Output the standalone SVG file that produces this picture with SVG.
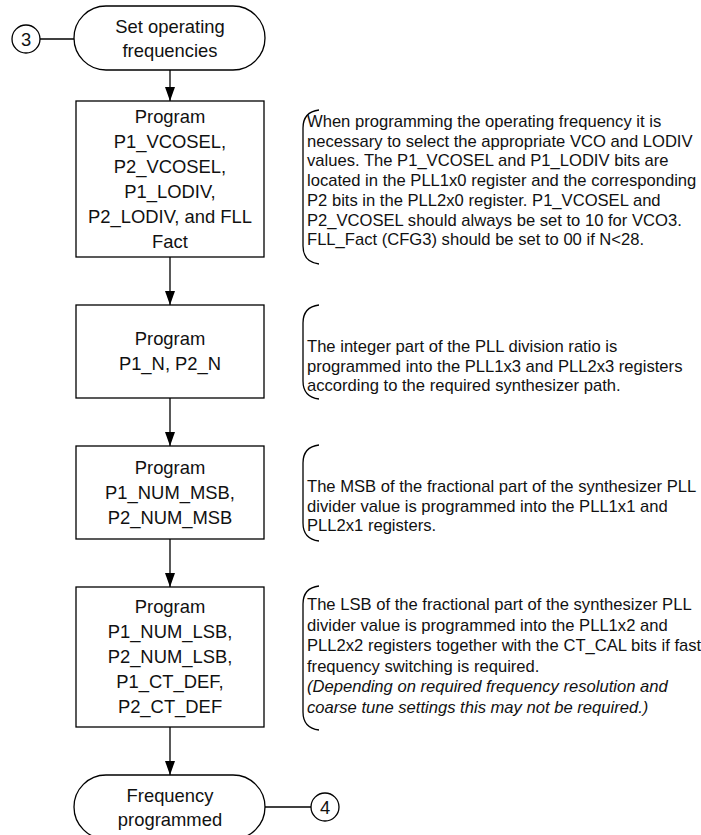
<svg xmlns="http://www.w3.org/2000/svg" width="701" height="835" viewBox="0 0 701 835">
<style>
.s{fill:#fff;stroke:#000;stroke-width:1.3}
.l{fill:none;stroke:#000;stroke-width:1.3}
.t{font-family:"Liberation Sans",Arial,sans-serif;font-size:18.4px;fill:#111;text-anchor:middle}
.n{font-family:"Liberation Sans",Arial,sans-serif;font-size:16.6px;fill:#111}
.i{font-style:italic}
</style>
<defs>
<marker id="ah" markerWidth="14" markerHeight="10" refX="14" refY="5" orient="auto" markerUnits="userSpaceOnUse" viewBox="0 0 14 10">
<path d="M0,0 L14,5 L0,10 Z" fill="#000"/>
</marker>
</defs>
<g id="connectors">
<line class="l" x1="40" y1="39" x2="74" y2="39"/>
<line class="l" x1="170" y1="70" x2="170" y2="101" marker-end="url(#ah)"/>
<line class="l" x1="170" y1="257" x2="170" y2="305" marker-end="url(#ah)"/>
<line class="l" x1="170" y1="398" x2="170" y2="446" marker-end="url(#ah)"/>
<line class="l" x1="170" y1="539" x2="170" y2="587" marker-end="url(#ah)"/>
<line class="l" x1="170" y1="727" x2="170" y2="775" marker-end="url(#ah)"/>
<line class="l" x1="264" y1="807" x2="311" y2="807"/>
</g>
<g id="c3">
<circle class="s" cx="26" cy="39" r="14"/>
<text class="t" x="26" y="46">3</text>
</g>
<g id="start">
<rect class="s" x="74" y="6" width="191" height="64" rx="32" ry="32"/>
<text class="t" x="170" y="33">Set operating</text>
<text class="t" x="170" y="57">frequencies</text>
</g>
<g id="box1">
<rect class="s" x="76" y="101" width="188" height="156"/>
<text class="t" x="170" y="123">Program</text>
<text class="t" x="170" y="148">P1_VCOSEL,</text>
<text class="t" x="170" y="173">P2_VCOSEL,</text>
<text class="t" x="170" y="198">P1_LODIV,</text>
<text class="t" x="170" y="223">P2_LODIV, and FLL</text>
<text class="t" x="170" y="248">Fact</text>
</g>
<g id="note1">
<path class="l" d="M319,110 Q303,112 303,128 L303,246 Q303,262 319,264"/>
<text class="n" x="307" y="127">When programming the operating frequency it is</text>
<text class="n" x="307" y="146.7">necessary to select the appropriate VCO and LODIV</text>
<text class="n" x="307" y="166.4">values. The P1_VCOSEL and P1_LODIV bits are</text>
<text class="n" x="307" y="186.1">located in the PLL1x0 register and the corresponding</text>
<text class="n" x="307" y="205.8">P2 bits in the PLL2x0 register. P1_VCOSEL and</text>
<text class="n" x="307" y="225.5">P2_VCOSEL should always be set to 10 for VCO3.</text>
<text class="n" x="307" y="245.2">FLL_Fact (CFG3) should be set to 00 if N&lt;28.</text>
</g>
<g id="box2">
<rect class="s" x="76" y="305" width="188" height="93"/>
<text class="t" x="170" y="345">Program</text>
<text class="t" x="170" y="370">P1_N, P2_N</text>
</g>
<g id="note2">
<path class="l" d="M319,305 Q303,307 303,323 L303,381 Q303,397 319,399"/>
<text class="n" x="307" y="352">The integer part of the PLL division ratio is</text>
<text class="n" x="307" y="371.5">programmed into the PLL1x3 and PLL2x3 registers</text>
<text class="n" x="307" y="391">according to the required synthesizer path.</text>
</g>
<g id="box3">
<rect class="s" x="76" y="446" width="188" height="93"/>
<text class="t" x="170" y="474">Program</text>
<text class="t" x="170" y="499">P1_NUM_MSB,</text>
<text class="t" x="170" y="524">P2_NUM_MSB</text>
</g>
<g id="note3">
<path class="l" d="M319,445 Q303,447 303,463 L303,523 Q303,539 319,541"/>
<text class="n" x="307" y="492">The MSB of the fractional part of the synthesizer PLL</text>
<text class="n" x="307" y="511.5">divider value is programmed into the PLL1x1 and</text>
<text class="n" x="307" y="531">PLL2x1 registers.</text>
</g>
<g id="box4">
<rect class="s" x="76" y="587" width="188" height="140"/>
<text class="t" x="170" y="613">Program</text>
<text class="t" x="170" y="638">P1_NUM_LSB,</text>
<text class="t" x="170" y="663">P2_NUM_LSB,</text>
<text class="t" x="170" y="688">P1_CT_DEF,</text>
<text class="t" x="170" y="713">P2_CT_DEF</text>
</g>
<g id="note4">
<path class="l" d="M319,586 Q303,588 303,604 L303,712 Q303,728 319,730"/>
<text class="n" x="307" y="610">The LSB of the fractional part of the synthesizer PLL</text>
<text class="n" x="307" y="630.6">divider value is programmed into the PLL1x2 and</text>
<text class="n" x="307" y="651.2">PLL2x2 registers together with the CT_CAL bits if fast</text>
<text class="n" x="307" y="671.8">frequency switching is required.</text>
<text class="n i" x="307" y="692.4">(Depending on required frequency resolution and</text>
<text class="n i" x="307" y="713">coarse tune settings this may not be required.)</text>
</g>
<g id="end">
<rect class="s" x="74" y="775" width="191" height="64" rx="32" ry="32"/>
<text class="t" x="170" y="802">Frequency</text>
<text class="t" x="170" y="826">programmed</text>
</g>
<g id="c4">
<circle class="s" cx="325" cy="807" r="14"/>
<text class="t" x="325" y="814">4</text>
</g>
</svg>
